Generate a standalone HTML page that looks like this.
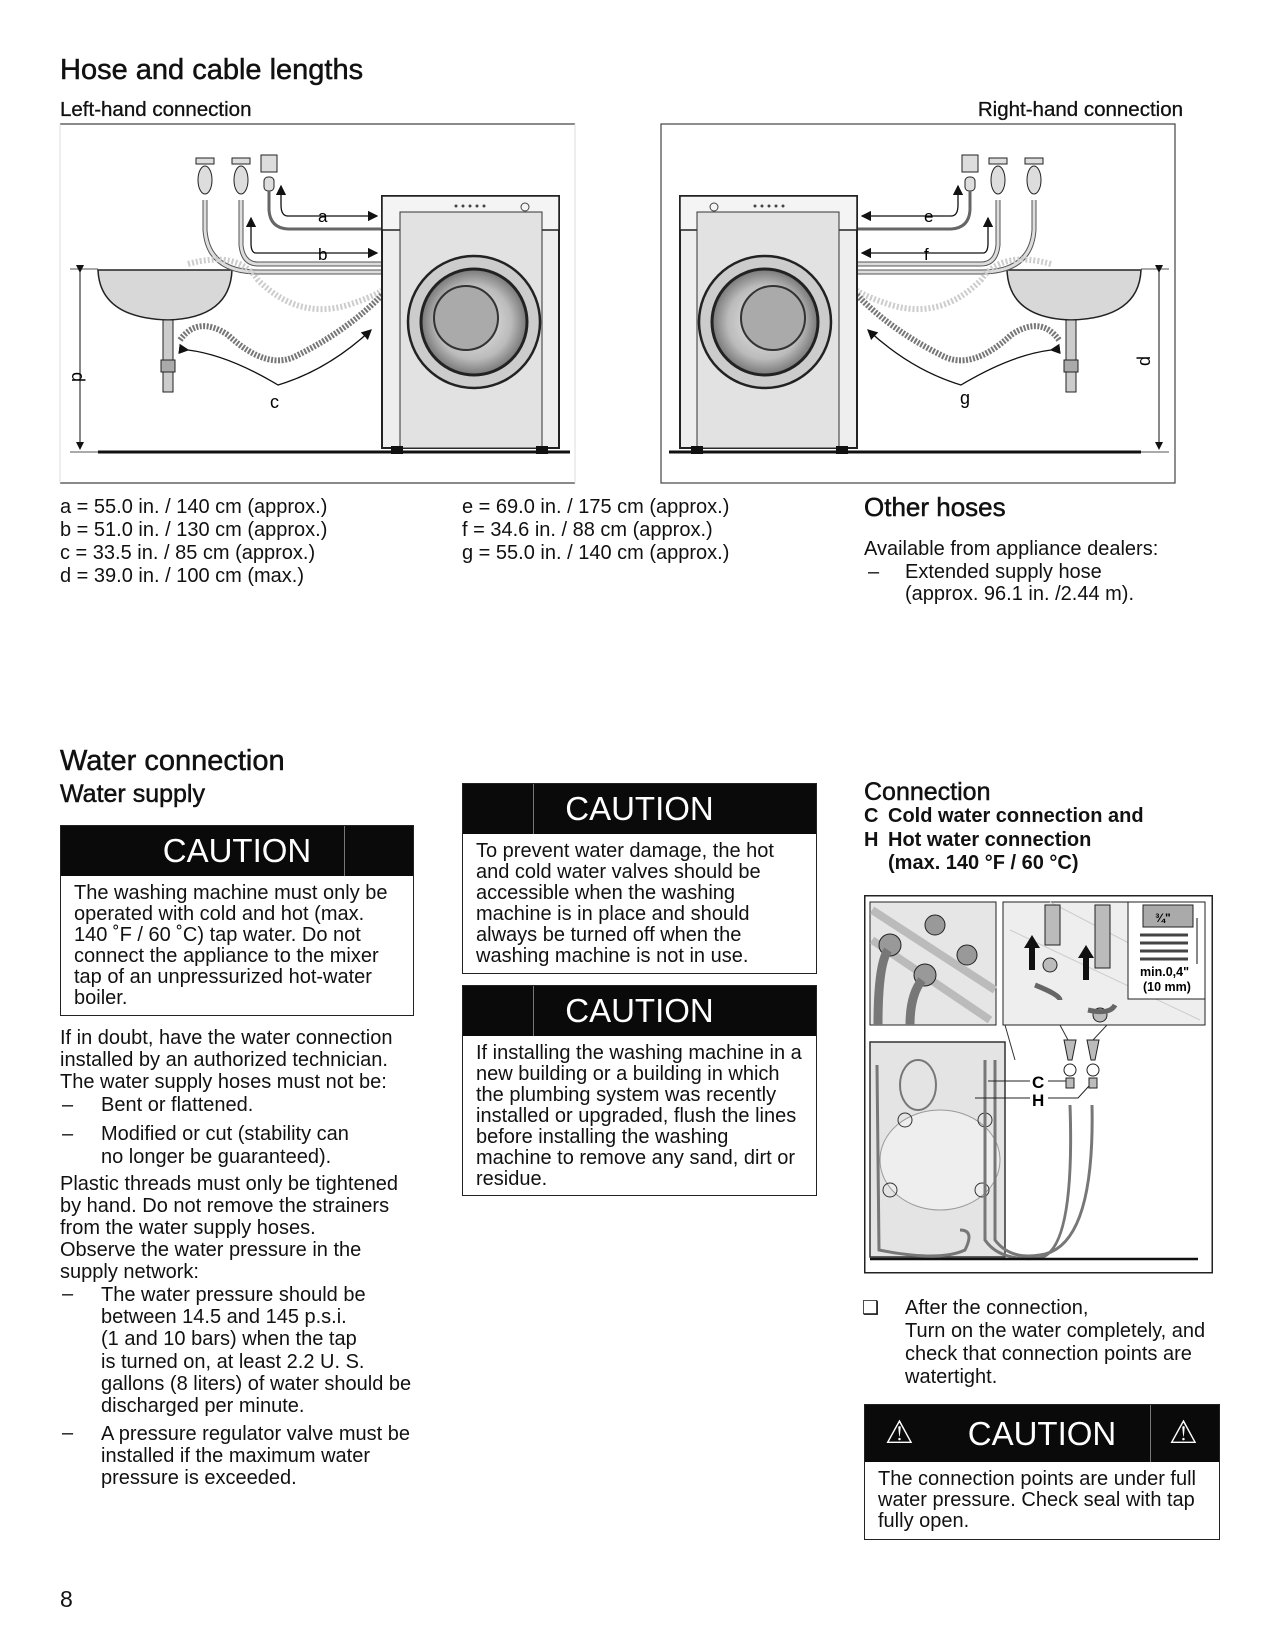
<!DOCTYPE html>
<html><head><meta charset="utf-8">
<style>
body{margin:0;background:#fff;}
#p{position:relative;width:1275px;height:1650px;overflow:hidden;font-family:"Liberation Sans",Arial,sans-serif;color:#111;}
.t{position:absolute;white-space:nowrap;}
.h{-webkit-text-stroke:0.5px #111;}
.b{font-size:20px;line-height:21px;}
.cbox{position:absolute;border:1.5px solid #222;box-sizing:border-box;}
.ch{position:absolute;left:0;right:0;top:0;background:#0a0a0a;color:#fff;}
.ch span{position:absolute;font-size:33px;line-height:33px;}
.cdiv{position:absolute;top:0;bottom:0;width:1px;background:#777;}
</style></head><body><div id="p">

<div class="t h" style="left:60px;top:54px;font-size:29px;">Hose and cable lengths</div>
<div class="t h" style="left:60px;top:98px;font-size:20.5px;-webkit-text-stroke:0.3px #111;">Left-hand connection</div>
<div class="t h" style="right:92px;top:98px;font-size:20.5px;-webkit-text-stroke:0.3px #111;">Right-hand connection</div>

<svg style="position:absolute;left:0;top:0" width="1275" height="500" viewBox="0 0 1275 500">
 <defs>
  <marker id="ar" markerWidth="8" markerHeight="8" refX="7" refY="4" orient="auto"><path d="M0,0 L8,4 L0,8z" fill="#111"/></marker>
  <radialGradient id="dg" cx="50%" cy="50%" r="50%"><stop offset="0" stop-color="#eee"/><stop offset="0.7" stop-color="#bbb"/><stop offset="1" stop-color="#777"/></radialGradient>
 </defs>
 <line x1="60" y1="124" x2="575" y2="124" stroke="#444" stroke-width="1.2"/>
 <line x1="60" y1="483" x2="575" y2="483" stroke="#444" stroke-width="1.2"/>
 <line x1="60" y1="124" x2="60" y2="483" stroke="#ddd"/>
 <line x1="575" y1="124" x2="575" y2="483" stroke="#ddd"/>
 <rect x="661" y="124" width="514" height="359" fill="none" stroke="#444" stroke-width="1.2"/>

 <g id="L">
 <line x1="70" y1="269" x2="98" y2="269" stroke="#555"/>
 <line x1="70" y1="452" x2="98" y2="452" stroke="#555"/>
 <line x1="98" y1="452" x2="570" y2="452" stroke="#111" stroke-width="3"/>
 <line x1="80" y1="272" x2="80" y2="449" stroke="#111" marker-start="url(#ar)" marker-end="url(#ar)"/>
 <path d="M98,270 L232,270 Q230,318 168,320 Q100,318 98,270z" fill="#d8d8d8" stroke="#222" stroke-width="1.5"/>
 <rect x="163" y="320" width="10" height="72" fill="#ccc" stroke="#222"/>
 <rect x="161" y="360" width="14" height="12" fill="#aaa" stroke="#222"/>
 <g stroke="#222" fill="#ddd"><rect x="196" y="158" width="18" height="6"/><rect x="232" y="158" width="18" height="6"/><ellipse cx="205" cy="180" rx="7" ry="14"/><ellipse cx="241" cy="180" rx="7" ry="14"/><rect x="261" y="155" width="16" height="17"/><rect x="264" y="177" width="10" height="14" rx="4"/></g>
 <g fill="none" stroke="#555" stroke-width="5"><path d="M205,200 L205,230 Q208,272 258,272 L382,272"/><path d="M241,200 L241,245 Q243,264 258,264 L382,264"/></g>
 <g fill="none" stroke="#ddd" stroke-width="3"><path d="M205,200 L205,230 Q208,272 258,272 L382,272"/><path d="M241,200 L241,245 Q243,264 258,264 L382,264"/></g>
 <path d="M269,191 L269,210 Q270,228 288,229 L382,229" fill="none" stroke="#666" stroke-width="3"/>
 <path d="M288,216 Q281,216 281,205 L281,186" fill="none" stroke="#111" stroke-width="1.3" marker-end="url(#ar)"/>
 <line x1="288" y1="216" x2="377" y2="216" stroke="#111" stroke-width="1.3" marker-end="url(#ar)"/>
 <path d="M256,253 Q251,253 251,243 L251,218" fill="none" stroke="#111" stroke-width="1.3" marker-end="url(#ar)"/>
 <line x1="256" y1="253" x2="377" y2="253" stroke="#111" stroke-width="1.3" marker-end="url(#ar)"/>
 <path d="M188,264 Q238,250 258,280 Q298,320 348,305 Q378,295 382,290" fill="none" stroke="#ccc" stroke-width="6" stroke-dasharray="2 2"/>
 <path d="M180,340 Q198,315 228,335 Q268,372 298,355 Q348,330 382,295" fill="none" stroke="#777" stroke-width="6" stroke-dasharray="2 1.5"/>
 <path d="M188,350 Q228,355 278,385 Q328,370 371,330" fill="none" stroke="#111" stroke-width="1.3" marker-start="url(#ar)" marker-end="url(#ar)"/>
 <rect x="382" y="196" width="177" height="252" fill="#eee" stroke="#222" stroke-width="2"/>
 <rect x="382" y="196" width="177" height="34" fill="#f4f4f4" stroke="#222" stroke-width="1.5"/>
 <rect x="400" y="212" width="142" height="236" fill="#e2e2e2" stroke="#333"/>
 <circle cx="474" cy="322" r="66" fill="#ccc" stroke="#222" stroke-width="2.5"/>
 <circle cx="474" cy="322" r="53" fill="url(#dg)" stroke="#222" stroke-width="3"/>
 <circle cx="466" cy="318" r="32" fill="#aaa" stroke="#333" stroke-width="2"/>
 <rect x="391" y="446" width="12" height="8" fill="#111"/><rect x="536" y="446" width="12" height="8" fill="#111"/>
 <g fill="#444"><circle cx="456" cy="206" r="1.5"/><circle cx="463" cy="206" r="1.5"/><circle cx="470" cy="206" r="1.5"/><circle cx="477" cy="206" r="1.5"/><circle cx="484" cy="206" r="1.5"/><circle cx="525" cy="207" r="4" fill="none" stroke="#444"/></g>
 </g>
 <use href="#L" transform="translate(1239,0) scale(-1,1)"/>

 <text x="72" y="372" font-size="18" transform="rotate(90 72 372)" font-family="Liberation Sans">d</text>
 <text x="318" y="222" font-size="17" font-family="Liberation Sans">a</text>
 <text x="318" y="260" font-size="17" font-family="Liberation Sans">b</text>
 <text x="270" y="408" font-size="18" font-family="Liberation Sans">c</text>
 <text x="924" y="222" font-size="17" font-family="Liberation Sans">e</text>
 <text x="924" y="260" font-size="17" font-family="Liberation Sans">f</text>
 <text x="960" y="404" font-size="18" font-family="Liberation Sans">g</text>
 <text x="1150" y="366" font-size="18" transform="rotate(-90 1150 366)" font-family="Liberation Sans">d</text>
</svg>

<div class="t" style="left:60px;top:496px;font-size:20px;line-height:23px;">a = 55.0 in. / 140 cm (approx.)<br>b = 51.0 in. / 130 cm (approx.)<br>c = 33.5 in. / 85 cm (approx.)<br>d = 39.0 in. / 100 cm (max.)</div>
<div class="t" style="left:462px;top:496px;font-size:20px;line-height:23px;">e = 69.0 in. / 175 cm (approx.)<br>f = 34.6 in. / 88 cm (approx.)<br>g = 55.0 in. / 140 cm (approx.)</div>
<div class="t h" style="left:864px;top:492px;font-size:26px;">Other hoses</div>
<div class="t b" style="left:864px;top:538px;line-height:23px;">Available from appliance dealers:</div>
<div class="t b" style="left:868px;top:561px;line-height:23px;">–</div>
<div class="t b" style="left:905px;top:561px;line-height:22px;">Extended supply hose<br>(approx. 96.1 in. /2.44 m).</div>

<div class="t h" style="left:60px;top:745px;font-size:29px;">Water connection</div>
<div class="t h" style="left:60px;top:780px;font-size:25px;">Water supply</div>

<div class="cbox" style="left:60px;top:825px;width:354px;height:191px;">
 <div class="ch" style="height:50px;"><div class="cdiv" style="left:283px;"></div><span style="left:0;right:0;text-align:center;top:8px;">CAUTION</span></div>
 <div class="t b" style="left:13px;top:57px;">The washing machine must only be<br>operated with cold and hot (max.<br>140 ˚F / 60 ˚C) tap water. Do not<br>connect the appliance to the mixer<br>tap of an unpressurized hot-water<br>boiler.</div>
</div>

<div class="t b" style="left:60px;top:1027px;line-height:22px;">If in doubt, have the water connection<br>installed by an authorized technician.<br>The water supply hoses must not be:</div>
<div class="t b" style="left:62px;top:1095px;">–</div><div class="t b" style="left:101px;top:1095px;">Bent or flattened.</div>
<div class="t b" style="left:62px;top:1123px;line-height:23px;">–</div><div class="t b" style="left:101px;top:1123px;line-height:23px;">Modified or cut (stability can<br>no longer be guaranteed).</div>
<div class="t b" style="left:60px;top:1173px;line-height:22px;">Plastic threads must only be tightened<br>by hand. Do not remove the strainers<br>from the water supply hoses.<br>Observe the water pressure in the<br>supply network:</div>
<div class="t b" style="left:62px;top:1284px;">–</div><div class="t b" style="left:101px;top:1284px;line-height:22.2px;">The water pressure should be<br>between 14.5 and 145 p.s.i.<br>(1 and 10 bars) when the tap<br>is turned on, at least 2.2 U. S.<br>gallons (8 liters) of water should be<br>discharged per minute.</div>
<div class="t b" style="left:62px;top:1423px;">–</div><div class="t b" style="left:101px;top:1423px;line-height:22px;">A pressure regulator valve must be<br>installed if the maximum water<br>pressure is exceeded.</div>

<div class="cbox" style="left:462px;top:783px;width:355px;height:191px;">
 <div class="ch" style="height:50px;"><div class="cdiv" style="left:70px;"></div><span style="left:0;right:0;text-align:center;top:8px;">CAUTION</span></div>
 <div class="t b" style="left:13px;top:57px;">To prevent water damage, the hot<br>and cold water valves should be<br>accessible when the washing<br>machine is in place and should<br>always be turned off when the<br>washing machine is not in use.</div>
</div>
<div class="cbox" style="left:462px;top:985px;width:355px;height:211px;">
 <div class="ch" style="height:50px;"><div class="cdiv" style="left:70px;"></div><span style="left:0;right:0;text-align:center;top:8px;">CAUTION</span></div>
 <div class="t b" style="left:13px;top:57px;">If installing the washing machine in a<br>new building or a building in which<br>the plumbing system was recently<br>installed or upgraded, flush the lines<br>before installing the washing<br>machine to remove any sand, dirt or<br>residue.</div>
</div>

<div class="t h" style="left:864px;top:778px;font-size:25px;">Connection</div>
<div class="t" style="left:864px;top:805px;font-size:20px;font-weight:bold;line-height:23.5px;">C<br>H</div>
<div class="t" style="left:888px;top:805px;font-size:20px;font-weight:bold;line-height:23.5px;">Cold water connection and<br>Hot water connection<br>(max. 140 °F / 60 °C)</div>

<svg style="position:absolute;left:864px;top:894px" width="350" height="380" viewBox="864 894 350 380">
 <rect x="864.75" y="895.75" width="347.5" height="377" fill="#fff" stroke="#222" stroke-width="1.5"/>
 <rect x="870" y="902" width="126" height="123" fill="#e6e6e6" stroke="#222"/>
 <path d="M872,910 L995,990 M872,940 L990,1020" stroke="#bbb" stroke-width="8"/>
 <g fill="#999" stroke="#222"><circle cx="935" cy="925" r="10"/><circle cx="967" cy="955" r="10"/><circle cx="890" cy="945" r="11"/><circle cx="925" cy="975" r="11"/></g>
 <g fill="none" stroke="#777" stroke-width="9"><path d="M888,950 Q878,965 878,1025"/><path d="M922,980 Q910,995 910,1025"/></g>
 <rect x="1003" y="902" width="202" height="123" fill="#eee" stroke="#222"/>
 <path d="M1010,930 L1200,1020 M1050,902 L1200,980" stroke="#ccc"/>
 <g fill="#bbb" stroke="#222"><path d="M1045,905 L1060,905 L1060,945 L1045,945z"/><path d="M1095,905 L1110,905 L1110,968 L1095,968z"/><circle cx="1050" cy="965" r="7"/><circle cx="1100" cy="1015" r="7"/></g>
 <g fill="#111"><path d="M1029,970 L1029,948 L1024,948 L1032,935 L1040,948 L1035,948 L1035,970z"/><path d="M1083,980 L1083,958 L1078,958 L1086,945 L1094,958 L1089,958 L1089,980z"/></g>
 <path d="M1035,985 Q1060,995 1060,1000" stroke="#666" stroke-width="5" fill="none"/>
 <path d="M1088,1010 Q1110,1015 1115,1005" stroke="#666" stroke-width="5" fill="none"/>
 <rect x="1128" y="902" width="77" height="97" fill="#fff" stroke="#222"/>
 <rect x="1143" y="905" width="50" height="22" fill="#aaa" stroke="#222"/>
 <text x="1155" y="922" font-size="12" font-weight="bold" font-family="Liberation Sans">¾"</text>
 <g stroke="#444" stroke-width="3"><line x1="1140" y1="935" x2="1188" y2="935"/><line x1="1140" y1="943" x2="1188" y2="943"/><line x1="1140" y1="951" x2="1188" y2="951"/><line x1="1140" y1="959" x2="1188" y2="959"/></g>
 <line x1="1197" y1="918" x2="1197" y2="964" stroke="#111"/>
 <text x="1140" y="976" font-size="12.5" font-weight="bold" font-family="Liberation Sans">min.0,4"</text>
 <text x="1143" y="991" font-size="12.5" font-weight="bold" font-family="Liberation Sans">(10 mm)</text>
 <rect x="870" y="1042" width="135" height="215" fill="#e4e4e4" stroke="#333" stroke-width="1.5"/>
 <ellipse cx="940" cy="1160" rx="60" ry="50" fill="#eee" stroke="#999"/>
 <circle cx="905" cy="1120" r="7" fill="none" stroke="#333"/><circle cx="985" cy="1120" r="7" fill="none" stroke="#333"/>
 <circle cx="890" cy="1190" r="7" fill="none" stroke="#333"/><circle cx="982" cy="1190" r="7" fill="none" stroke="#333"/>
 <ellipse cx="918" cy="1085" rx="18" ry="25" fill="none" stroke="#777" stroke-width="2"/>
 <g fill="none" stroke="#777" stroke-width="3"><path d="M985,1060 L985,1240 Q1000,1262 1040,1258 Q1075,1250 1070,1105"/><path d="M995,1060 L995,1240 Q1010,1260 1040,1255 Q1095,1248 1092,1105"/><path d="M877,1065 L879,1250 Q940,1262 965,1250 Q975,1230 960,1230"/></g>
 <g fill="#bbb" stroke="#222"><path d="M1064,1040 L1076,1040 L1072,1060 L1068,1060z"/><path d="M1087,1040 L1099,1040 L1095,1060 L1091,1060z"/><circle cx="1070" cy="1070" r="6" fill="none"/><circle cx="1093" cy="1070" r="6" fill="none"/><rect x="1066" y="1078" width="8" height="10"/><rect x="1089" y="1078" width="8" height="10"/></g>
 <line x1="1005" y1="1025" x2="1015" y2="1060" stroke="#333"/>
 <line x1="1060" y1="1025" x2="1068" y2="1040" stroke="#333"/><line x1="1107" y1="1025" x2="1093" y2="1040" stroke="#333"/>
 <line x1="988" y1="1081" x2="1030" y2="1081" stroke="#222"/><line x1="1048" y1="1081" x2="1066" y2="1081" stroke="#222"/>
 <line x1="975" y1="1098" x2="1030" y2="1098" stroke="#222"/><path d="M1048,1098 L1078,1098 L1089,1086" fill="none" stroke="#222"/>
 <text x="1032" y="1088" font-size="17" font-weight="bold" font-family="Liberation Sans">C</text>
 <text x="1032" y="1106" font-size="17" font-weight="bold" font-family="Liberation Sans">H</text>
 <line x1="870" y1="1259" x2="1198" y2="1259" stroke="#111" stroke-width="2.5"/>
</svg>

<div class="t" style="left:862px;top:1297px;font-size:19px;">❑</div>
<div class="t b" style="left:905px;top:1297px;line-height:23px;">After the connection,<br>Turn on the water completely, and<br>check that connection points are<br>watertight.</div>

<div class="cbox" style="left:864px;top:1404px;width:356px;height:136px;">
 <div class="ch" style="height:57px;"><div class="cdiv" style="left:285px;"></div>
  <span style="left:20px;top:11px;font-size:32px;">⚠</span>
  <span style="left:0;right:0;text-align:center;top:12px;">CAUTION</span>
  <span style="left:304px;top:11px;font-size:32px;">⚠</span></div>
 <div class="t b" style="left:13px;top:64px;">The connection points are under full<br>water pressure. Check seal with tap<br>fully open.</div>
</div>

<div class="t" style="left:60px;top:1586px;font-size:23px;">8</div>
</div></body></html>
